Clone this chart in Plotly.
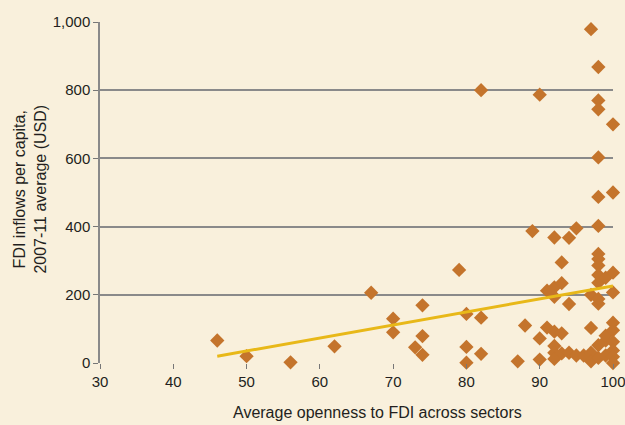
import plotly.graph_objects as go

openness = [46, 50, 56, 62, 67, 70, 70, 73, 74, 74, 74, 79, 80, 80, 80, 82, 82, 82,
            87, 88, 89, 90, 90, 90,
            91, 91,
            92, 92, 92, 92, 92, 92, 92,
            93, 93, 93, 93,
            94, 94, 94,
            95, 95,
            96,
            97, 97, 97, 97, 97,
            98, 98, 98, 98, 98, 98, 98, 98, 98, 98, 98, 98, 98, 98, 98,
            99, 99, 99, 99,
            100, 100, 100, 100, 100, 100, 100, 100, 100, 100]
fdi = [66, 20, 2, 49, 206, 130, 90, 46, 24, 169, 79, 273, 144, 47, 1, 133, 27, 800,
       5, 110, 387, 787, 72, 10,
       212, 104,
       368, 222, 194, 92, 50, 30, 12,
       295, 234, 87, 28,
       367, 173, 30,
       395, 22,
       22,
       979, 200, 103, 30, 5,
       868, 770, 744, 603, 487, 402, 320, 305, 286, 258, 235, 174, 188, 52, 15,
       250, 66, 22, 80,
       700, 500, 265, 207, 118, 96, 62, 37, 18, 0]

trend_x = [46, 100]
trend_y = [20, 226]

x_ticks = [30, 40, 50, 60, 70, 80, 90, 100]
y_ticks = [0, 200, 400, 600, 800, 1000]
y_tick_text = ["0", "200", "400", "600", "800", "1,000"]

x_title = "Average openness to FDI across sectors"
y_title = "FDI inflows per capita,<br>2007-11 average (USD)"

FONT = "Liberation Sans Narrow, Arial Narrow, sans-serif"
BG = "#F9F0DC"

fig = go.Figure()
fig.add_trace(go.Scatter(
    x=openness, y=fdi, mode="markers",
    marker=dict(symbol="diamond", size=11, color="#C4742C", line=dict(width=0)),
    cliponaxis=False, hoverinfo="skip", showlegend=False))
fig.add_trace(go.Scatter(
    x=trend_x, y=trend_y, mode="lines",
    line=dict(color="#E8B818", width=3),
    hoverinfo="skip", showlegend=False))

fig.update_layout(
    width=625, height=425,
    margin=dict(l=100, r=12, t=22, b=62, autoexpand=False),
    paper_bgcolor=BG, plot_bgcolor=BG,
    font=dict(family=FONT, size=15, color="#231F20"),
    xaxis=dict(
        range=[30, 100], tickvals=x_ticks, ticks="outside", ticklen=5,
        tickcolor="#777777", showgrid=False, zeroline=False, showline=False,
        tickfont=dict(size=15), automargin=False, ticklabeloverflow="allow"),
    yaxis=dict(
        range=[0, 1000], tickvals=y_ticks, ticktext=y_tick_text,
        ticks="outside", ticklen=5, tickcolor="#777777",
        showgrid=True, gridcolor="#8A8A8A", gridwidth=1.5,
        zeroline=False, showline=True, linecolor="#8A8A8A", linewidth=1.5,
        tickfont=dict(size=15), automargin=False, ticklabeloverflow="allow"),
    annotations=[
        dict(text=x_title, xref="paper", yref="paper", x=0.54, y=-0.1437,
             xanchor="center", yanchor="middle", showarrow=False,
             font=dict(size=16)),
        dict(text=y_title, xref="paper", yref="paper", x=-0.1355, y=0.51,
             xanchor="center", yanchor="middle", showarrow=False, textangle=-90,
             font=dict(size=16)),
    ],
)

fig.write_html(
    "out.html",
    config={"displayModeBar": False},
    post_script="document.body.style.margin='0';document.body.style.background='" + BG + "';document.body.style.overflow='hidden';",
)
